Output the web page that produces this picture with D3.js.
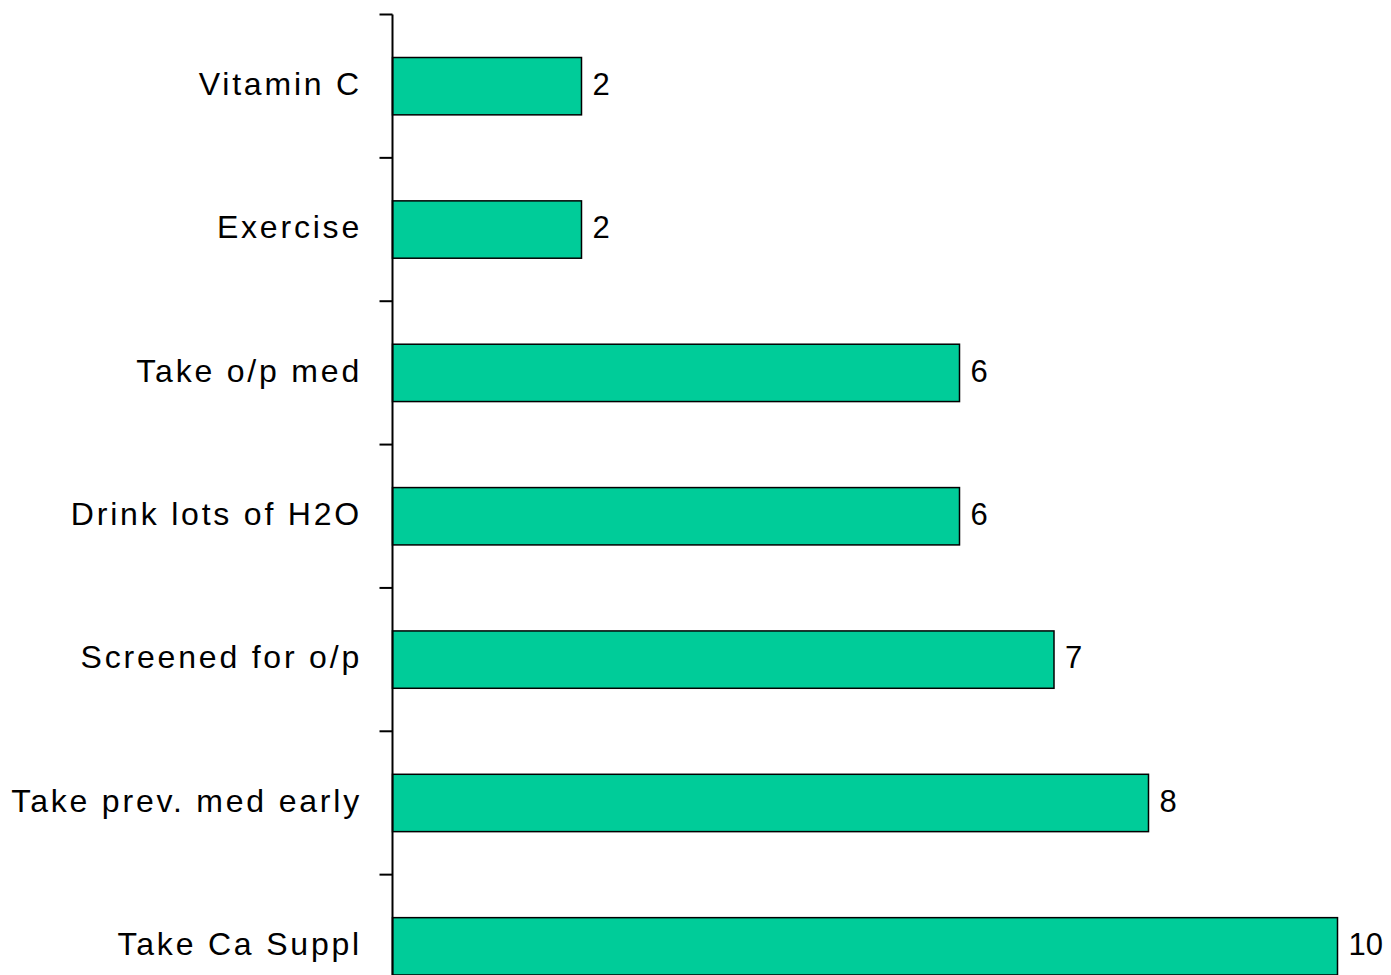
<!DOCTYPE html>
<html>
<head>
<meta charset="utf-8">
<script src="https://cdn.jsdelivr.net/npm/d3@7"></script>
<style>
  body{margin:0;background:#fff;}
  text{font-family:"Liberation Sans",Arial,sans-serif;}
</style>
</head>
<body>
<div id="chart"></div>
<script>
// データ
var categories = ["Vitamin C","Exercise","Take o/p med","Drink lots of H2O","Screened for o/p","Take prev. med early","Take Ca Suppl"];
var values = [2,2,6,6,7,8,10];

var W = 1391, H = 975;
var svg = d3.select("#chart").append("svg").attr("width", W).attr("height", H);

// スケール
var x = d3.scaleLinear().domain([0,10]).range([392.5,1337.5]);
var y = d3.scaleBand().domain(categories).range([14.5,1018]).paddingInner(0.6).paddingOuter(0.3);
var step = y.step();

// バー
svg.selectAll("rect.bar").data(values).enter().append("rect")
  .attr("class","bar")
  .attr("x", x(0))
  .attr("y", function(d,i){return y(categories[i])})
  .attr("width", function(d){return x(d)-x(0)})
  .attr("height", y.bandwidth())
  .attr("fill","#00CC99")
  .attr("stroke","#000")
  .attr("stroke-width",1.5);

// 軸線と目盛り
svg.append("line").attr("x1",x(0)).attr("x2",x(0)).attr("y1",14.5).attr("y2",H)
  .attr("stroke","#000").attr("stroke-width",2);
svg.selectAll("line.tick").data(categories).enter().append("line")
  .attr("class","tick")
  .attr("x1",x(0)-13).attr("x2",x(0))
  .attr("y1",function(d){return y(d)-step*0.3}).attr("y2",function(d){return y(d)-step*0.3})
  .attr("stroke","#000").attr("stroke-width",2);

// カテゴリラベル
svg.selectAll("text.cat").data(categories).enter().append("text")
  .attr("class","cat")
  .attr("x", 362)
  .attr("y", function(d){return y(d)+y.bandwidth()/2})
  .attr("dy","0.27em")
  .attr("text-anchor","end")
  .style("font-size","32px")
  .style("letter-spacing","2.8px")
  .attr("fill","#000")
  .text(function(d){return d});

// 値ラベル
svg.selectAll("text.val").data(values).enter().append("text")
  .attr("class","val")
  .attr("x", function(d){return x(d)+11})
  .attr("y", function(d,i){return y(categories[i])+y.bandwidth()/2})
  .attr("dy","0.28em")
  .style("font-size","31px")
  .attr("fill","#000")
  .text(function(d){return d});
</script>
</body>
</html>
